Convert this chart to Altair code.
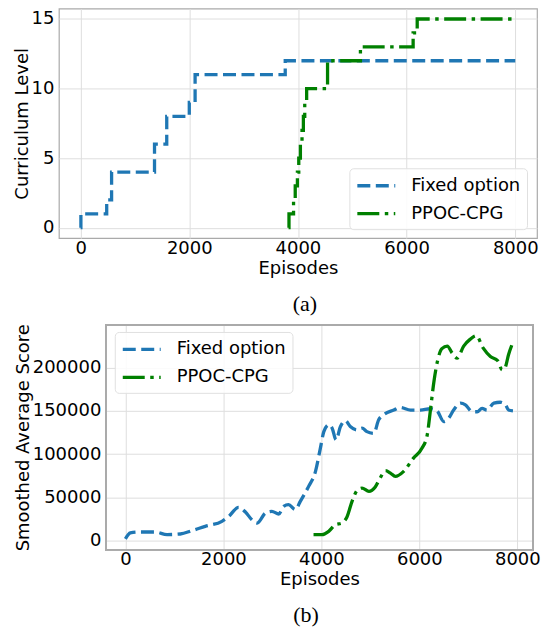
import altair as alt
import pandas as pd

series = ["Fixed option", "PPOC-CPG"]
colors = ["#1f77b4", "#008000"]
dashes = [[13, 5.5], [22, 5.5, 3.5, 5.5]]

# (a) curriculum level (step curves)
fixed_lvl_ep = [0, 5, 480, 570, 1360, 1585, 2000, 2107, 3766, 8000]
fixed_lvl = [0, 1, 2, 4, 6, 8, 9, 11, 12, 12]
ppoc_lvl_ep = [3827, 3835, 3919, 3950, 3990, 4015, 4045, 4075, 4100, 4125, 4160, 4545, 5150, 6120, 6195, 8000]
ppoc_lvl = [0, 1, 2, 3, 4, 5, 6, 7, 8, 9, 10, 12, 13, 14, 15, 15]

# (b) smoothed average score
fixed_sc_ep = [0, 100, 270, 610, 850, 1120, 1360, 1630, 1970, 2110, 2310, 2450, 2600, 2690, 2860, 2990,
               3130, 3230, 3330, 3470, 3570, 3740, 3880, 3980, 4050, 4150, 4220, 4300, 4390, 4490, 4590,
               4730, 4830, 4930, 5070, 5170, 5270, 5480, 5610, 5820, 6020, 6220, 6360, 6500, 6600, 6700,
               6840, 6940, 7080, 7180, 7280, 7380, 7520, 7650, 7760, 7820, 7910]
fixed_sc = [2000, 8800, 9900, 9900, 6900, 7600, 11500, 16500, 22300, 28000, 38500, 33000, 23000, 20300,
            31900, 33800, 30700, 39600, 41500, 35800, 45400, 62700, 80000, 107000, 126000, 134000, 130000,
            116600, 132000, 138600, 132000, 128000, 130000, 126000, 124000, 139700, 145500, 151000, 154000,
            151000, 151000, 152500, 150000, 137700, 141600, 151000, 159000, 157000, 149000, 149000, 153000,
            151000, 159000, 160000, 157000, 151000, 150000]
ppoc_sc_ep = [3840, 4010, 4150, 4290, 4420, 4520, 4630, 4730, 4830, 4970, 5100, 5200, 5310, 5410, 5510,
              5680, 5880, 6055, 6160, 6224, 6300, 6380, 6460, 6570, 6670, 6770, 6905, 7040, 7160, 7300,
              7450, 7600, 7690, 7750, 7820, 7900]
ppoc_sc = [6900, 6900, 10700, 18500, 20300, 27000, 46000, 58000, 60700, 57000, 62000, 72300, 80800, 78000,
           74200, 80000, 95400, 107000, 122000, 150000, 185000, 210000, 222000, 225000, 217000, 211000,
           225000, 233000, 237000, 223000, 213000, 208000, 197500, 200000, 215000, 228000]

x_ticks = [0, 2000, 4000, 6000, 8000]
lvl_ticks = [0, 5, 10, 15]
sc_ticks = [0, 50000, 100000, 150000, 200000]

x_dom_a = [-400, 8400]
y_dom_a = [-0.75, 15.75]
x_dom_b = [-400, 8320]
y_dom_b = [-10400, 249400]

df_a = pd.concat([
    pd.DataFrame({"Episodes": fixed_lvl_ep, "value": fixed_lvl, "series": series[0]}),
    pd.DataFrame({"Episodes": ppoc_lvl_ep, "value": ppoc_lvl, "series": series[1]}),
])
df_b = pd.concat([
    pd.DataFrame({"Episodes": fixed_sc_ep, "value": fixed_sc, "series": series[0]}),
    pd.DataFrame({"Episodes": ppoc_sc_ep, "value": ppoc_sc, "series": series[1]}),
])

FONT = "DejaVu Sans"
FRAME = "#aaaaaa"


def legend(x, y):
    return alt.Legend(
        title=None, orient="none", legendX=x, legendY=y,
        symbolType="M-1,0H3", symbolSize=361, symbolStrokeWidth=3.3,
        labelFontSize=18, labelFont=FONT, labelColor="black", labelOffset=33,
        rowPadding=7, padding=6, fillColor="rgba(255,255,255,0.85)",
        strokeColor="#e0e0e0", cornerRadius=4,
    )


def enc(leg):
    return dict(
        color=alt.Color("series:N", scale=alt.Scale(domain=series, range=colors), legend=leg),
        strokeDash=alt.StrokeDash("series:N", scale=alt.Scale(domain=series, range=dashes), legend=leg),
    )


axis_common = dict(labelFontSize=18, labelFont=FONT, labelColor="black", titleFontSize=18,
                   titleFont=FONT, titleColor="black", titleFontWeight="normal", format="d",
                   domain=False, ticks=False, gridColor="#dedede", gridWidth=1)

top = alt.Chart(df_a).mark_line(strokeWidth=3.3, interpolate="step-after", clip=True).encode(
    x=alt.X("Episodes:Q", scale=alt.Scale(domain=x_dom_a, nice=False, zero=False),
            axis=alt.Axis(values=x_ticks, title="Episodes", labelPadding=1, titlePadding=2, **axis_common)),
    y=alt.Y("value:Q", scale=alt.Scale(domain=y_dom_a, nice=False, zero=False),
            axis=alt.Axis(values=lvl_ticks, title="Curriculum Level", labelPadding=5, titlePadding=0, **axis_common)),
    **enc(legend(291, 160)),
).properties(
    width=479, height=230,
    view=alt.ViewBackground(stroke=FRAME, strokeWidth=1.2),
    title=alt.TitleParams("(a)", orient="bottom", font="Liberation Serif", fontSize=22,
                          fontWeight="normal", color="black", anchor="middle", dx=7, offset=17),
)

# bottom panel: its plot area starts 47 px to the right of the top one
b_line = alt.Chart(df_b).mark_line(strokeWidth=3.3, interpolate="monotone", clip=True).encode(
    x=alt.X("Episodes:Q", scale=alt.Scale(domain=x_dom_b, nice=False, zero=False, range=[47, 475]),
            axis=alt.Axis(values=x_ticks, title="Episodes", labelPadding=1, titlePadding=2, titleX=261,
                          **axis_common)),
    y=alt.Y("value:Q", scale=alt.Scale(domain=y_dom_b, nice=False, zero=False),
            axis=alt.Axis(values=sc_ticks, title="Smoothed Average Score", labelPadding=5, titlePadding=0,
                          offset=-47, **axis_common)),
    **enc(legend(56, 7)),
)
b_frame = alt.Chart(df_b).mark_rect(filled=False, stroke=FRAME, strokeWidth=1.2).encode(
    x=alt.datum(x_dom_b[0]), x2=alt.datum(x_dom_b[1]),
    y=alt.datum(y_dom_b[0]), y2=alt.datum(y_dom_b[1]),
)
bottom = alt.layer(b_line, b_frame).properties(
    width=475, height=225,
    view=alt.ViewBackground(stroke="transparent"),
    title=alt.TitleParams("(b)", orient="bottom", font="Liberation Serif", fontSize=22,
                          fontWeight="normal", color="black", anchor="middle", dx=10, offset=17),
)

chart = alt.vconcat(top, bottom, spacing=7).resolve_scale(
    color="independent", strokeDash="independent", x="independent", y="independent"
).properties(
    padding={"left": 12, "top": 7, "right": 0, "bottom": 0}, background="white"
)

chart.save("out.html", embed_options={"renderer": "svg", "actions": False})
